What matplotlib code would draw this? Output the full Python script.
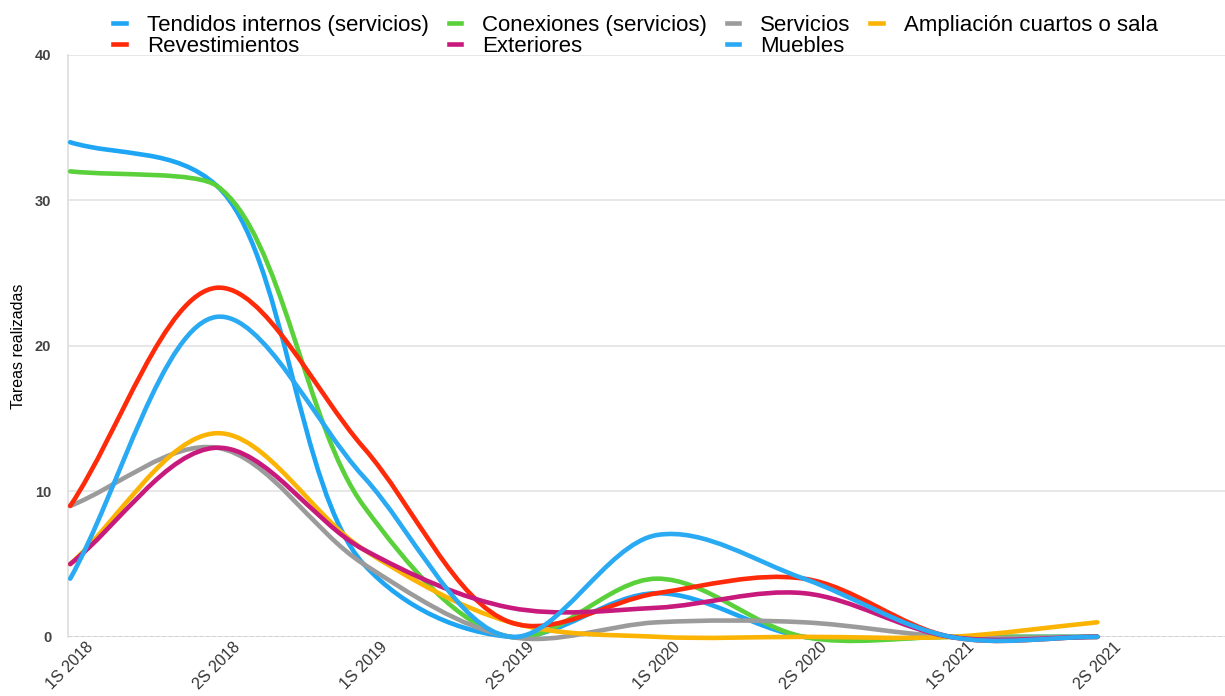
import matplotlib
matplotlib.use("Agg")
import math
import matplotlib.pyplot as plt
from matplotlib.path import Path
from matplotlib.patches import PathPatch
from matplotlib.lines import Line2D

periods = ["1S 2018", "2S 2018", "1S 2019", "2S 2019", "1S 2020", "2S 2020", "1S 2021", "2S 2021"]

tendidos = [34, 31, 5, 0, 3, 0, 0, 0]
conexiones = [32, 31, 9, 0, 4, 0, 0, 0]
servicios = [9, 13, 5, 0, 1, 1, 0, 0]
ampliacion = [5, 14, 6, 1, 0, 0, 0, 1]
revestimientos = [9, 24, 13, 1, 3, 4, 0, 0]
exteriores = [5, 13, 6, 2, 2, 3, 0, 0]
muebles = [4, 22, 11, 0, 7, 4, 0, 0]

series = [
    ("Tendidos internos (servicios)", tendidos, "#1ea6f4"),
    ("Conexiones (servicios)", conexiones, "#5ad13b"),
    ("Servicios", servicios, "#9b9b9b"),
    ("Ampliación cuartos o sala", ampliacion, "#fbb404"),
    ("Revestimientos", revestimientos, "#ff2a0a"),
    ("Exteriores", exteriores, "#c8197c"),
    ("Muebles", muebles, "#2aaaf2"),
]

plt.rcParams["font.family"] = ["Liberation Sans", "DejaVu Sans"]

# rough pixel size of one x step / one y unit, so the spline is centripetal on screen
SX, SY = 146.7, 14.55


def smooth_path(xs, ys, alpha=0.5):
    # centripetal Catmull-Rom as Bezier segments; a handle that would overshoot
    # a neighbour on a monotone stretch is shortened (direction kept, so still smooth)
    pts = [(x * SX, y * SY) for x, y in zip(xs, ys)]
    n = len(pts)

    def d(a, b):
        return math.hypot(b[0] - a[0], b[1] - a[1]) ** alpha

    h_in = [None] * n
    h_out = [None] * n
    for i in range(1, n - 1):
        p0, p1, p2 = pts[i - 1], pts[i], pts[i + 1]
        d1, d2 = d(p0, p1), d(p1, p2)
        k = 2 * d1 ** 2 + 3 * d1 * d2 + d2 ** 2
        den = 3 * d1 * (d1 + d2)
        b1 = [(d1 ** 2 * p2[j] - d2 ** 2 * p0[j] + k * p1[j]) / den for j in range(2)]
        k = 2 * d2 ** 2 + 3 * d2 * d1 + d1 ** 2
        den = 3 * d2 * (d2 + d1)
        b2 = [(d2 ** 2 * p0[j] - d1 ** 2 * p2[j] + k * p1[j]) / den for j in range(2)]
        ho = [b1[0] - p1[0], b1[1] - p1[1]]
        hi = [b2[0] - p1[0], b2[1] - p1[1]]
        dy0, dy1 = p1[1] - p0[1], p2[1] - p1[1]
        if dy0 * dy1 > 0:
            if abs(hi[1]) > abs(dy0):
                hi = [v * abs(dy0) / abs(hi[1]) for v in hi]
            if abs(ho[1]) > abs(dy1):
                ho = [v * abs(dy1) / abs(ho[1]) for v in ho]
        h_in[i], h_out[i] = hi, ho
    h_out[0] = [(pts[1][j] - pts[0][j]) / 3 for j in range(2)]
    h_in[-1] = [(pts[-2][j] - pts[-1][j]) / 3 for j in range(2)]

    verts = [(xs[0], ys[0])]
    codes = [Path.MOVETO]
    for i in range(n - 1):
        p1, p2 = pts[i], pts[i + 1]
        c1 = (p1[0] + h_out[i][0], p1[1] + h_out[i][1])
        c2 = (p2[0] + h_in[i + 1][0], p2[1] + h_in[i + 1][1])
        for c in (c1, c2, p2):
            verts.append((c[0] / SX, c[1] / SY))
        codes += [Path.CURVE4] * 3
    return Path(verts, codes)


fig = plt.figure(figsize=(12.25, 6.96), dpi=100)
ax = fig.add_axes([0.0555, 0.085, 0.9445, 0.836])

x = list(range(len(periods)))
ax.axhline(0, color="#333333", lw=0.9, ls=(0, (3, 2)), zorder=1)
for name, vals, color in series:
    patch = PathPatch(smooth_path(x, vals), facecolor="none", edgecolor=color,
                      lw=3.3, capstyle="round", joinstyle="round", zorder=3, clip_on=False)
    ax.add_patch(patch)

ax.set_xlim(-0.015, 7.87)
ax.set_ylim(0, 40)
ax.set_yticks([0, 10, 20, 30, 40])
ax.set_xticks(x)
ax.set_xticklabels(periods, rotation=45, ha="center", fontsize=11.5, color="#333333")
ax.tick_params(axis="both", length=0)
ax.tick_params(axis="y", labelsize=10.5, labelcolor="#444444", pad=12)
ax.tick_params(axis="x", pad=2)
for lbl in ax.get_yticklabels():
    lbl.set_fontweight("bold")
ax.grid(True, axis="y", color="#e3e3e3", lw=1.2, zorder=0)
ax.set_axisbelow(True)
for s in ["top", "right", "bottom"]:
    ax.spines[s].set_visible(False)
ax.spines["left"].set_color("#dddddd")
ax.spines["left"].set_linewidth(1.2)
ax.set_ylabel("Tareas realizadas", fontsize=11.5, labelpad=6)

# legend filled column-wise so it reads row-wise like the original
order = [0, 4, 1, 5, 2, 6, 3]
handles = [Line2D([], [], color=series[i][2], lw=3.3) for i in order]
labels = [series[i][0] for i in order]
fig.legend(handles, labels, loc="upper left", bbox_to_anchor=(0.078, 1.004), ncol=4,
           frameon=False, fontsize=16, handlelength=0.55, handletextpad=0.95,
           columnspacing=0.9, labelspacing=0.0, borderpad=0.3)

fig.savefig("out.png")
